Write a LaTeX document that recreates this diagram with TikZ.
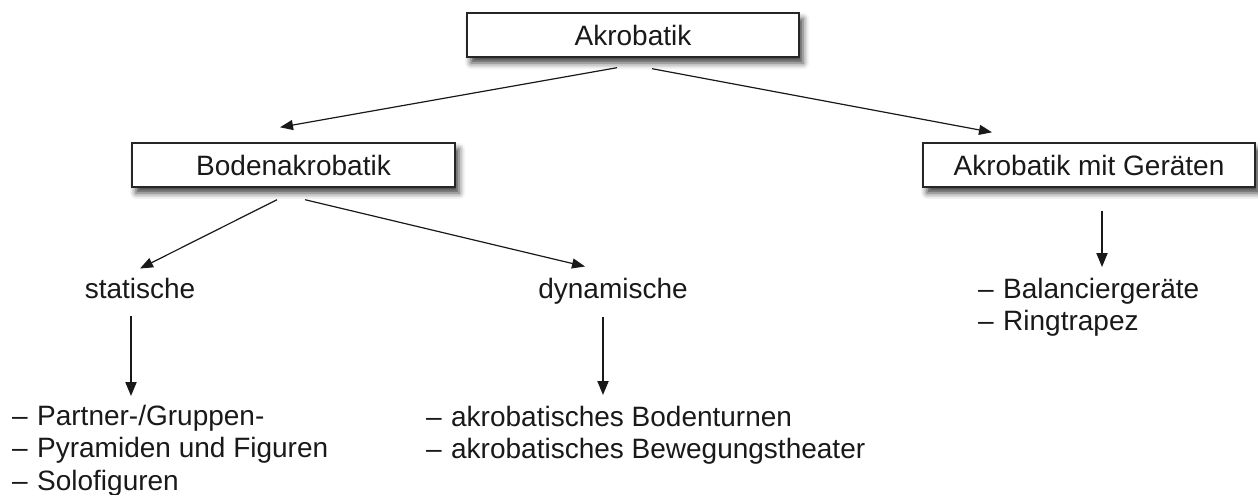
\documentclass[tikz,border=0pt]{standalone}
\usepackage{fontspec}
\setmainfont{Liberation Sans}
\usetikzlibrary{arrows.meta,shadows.blur,calc}
\tikzset{
  txt/.style={font=\fontsize{28}{32.5}\selectfont, text=black!90, inner sep=0pt},
  box/.style={txt, draw=black!85, line width=1.4pt, fill=white, minimum height=44pt,
    blur shadow={shadow xshift=4pt, shadow yshift=-6pt, shadow blur radius=6pt, shadow opacity=75}},
  conn/.style={line width=1.2pt, draw=black!90, -{Triangle[length=13pt,width=10pt]}},
  vconn/.style={line width=1.9pt, draw=black!90, -{Triangle[length=14pt,width=11pt]}}
}
\newcommand{\li}[1]{\makebox[25pt][l]{–}#1}
\begin{document}
\begin{tikzpicture}[x=1pt,y=-1pt]
\useasboundingbox (0,0) rectangle (1258,495);
% boxes
\node[box, minimum width=332pt] (akro) at (633,35) {Akrobatik};
\node[box, minimum width=323pt] (boden) at (293.5,165) {Bodenakrobatik};
\node[box, minimum width=332pt] (geraet) at (1089,165) {Akrobatik mit Geräten};
% sub headings
\node[txt, anchor=base] (stat) at (140,298) {statische};
\node[txt, anchor=base] (dyn) at (613,298) {dynamische};
% lists
\node[txt, anchor=base west] (statlist) at (12,425) {\begin{tabular}[t]{@{}l@{}}
\li{Partner-/Gruppen-}\\ \li{Pyramiden und Figuren}\\ \li{Solofiguren}\end{tabular}};
\node[txt, anchor=base west] (dynlist) at (426,426) {\begin{tabular}[t]{@{}l@{}}
\li{akrobatisches Bodenturnen}\\ \li{akrobatisches Bewegungstheater}\end{tabular}};
\node[txt, anchor=base west] (geraetlist) at (978,298) {\begin{tabular}[t]{@{}l@{}}
\li{Balanciergeräte}\\ \li{Ringtrapez}\end{tabular}};
% connectors
\draw[conn] ($(akro.south)+(-16,10)$) -- ($(boden.north)+(-13.5,-15)$);
\draw[conn] ($(akro.south)+(19,11)$) -- ($(geraet.north)+(-97,-10)$);
\draw[conn] ($(boden.south)+(-16.5,12)$) -- ($(stat.north)+(0,-9)$);
\draw[conn] ($(boden.south)+(11.5,12)$) -- ($(dyn.north)+(-28,-11)$);
\draw[vconn] ($(stat.south)+(-9,18)$) -- ($(statlist.north west)+(119,-6)$);
\draw[vconn] ($(dyn.south)+(-10,13)$) -- ($(dynlist.north west)+(177,-8)$);
\draw[vconn] ($(geraet.south)+(13,23)$) -- ($(geraetlist.north west)+(124,-8)$);
\end{tikzpicture}
\end{document}
